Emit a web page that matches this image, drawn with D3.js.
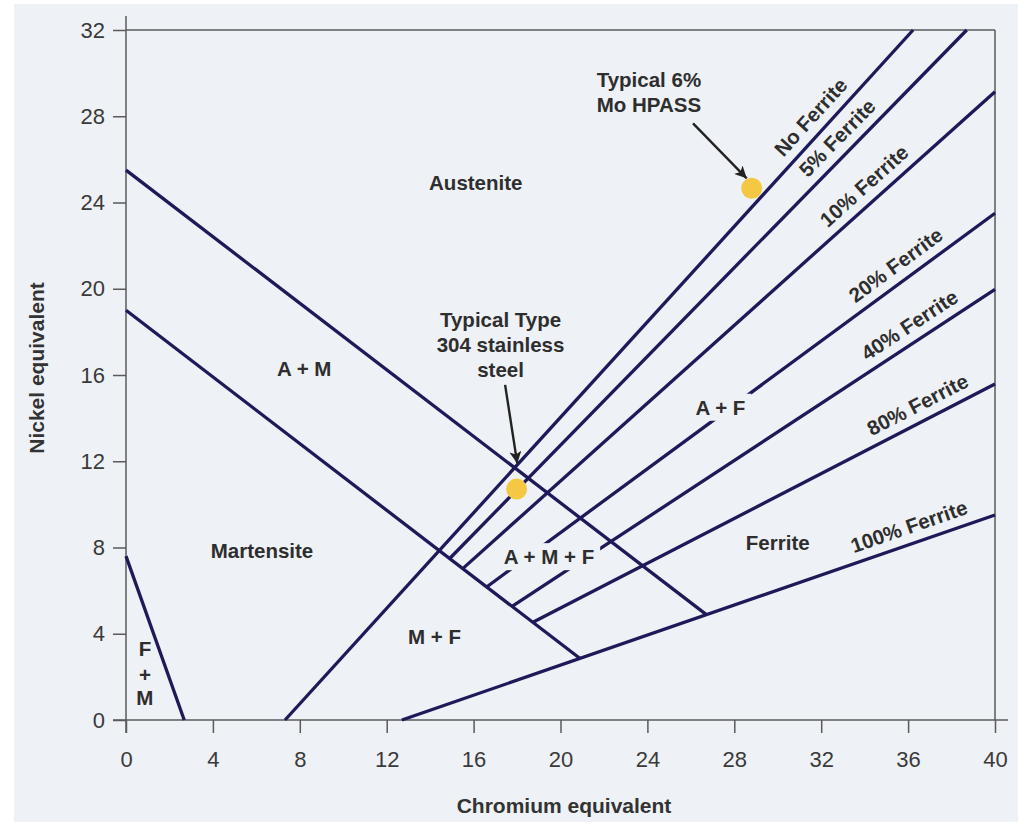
<!DOCTYPE html>
<html>
<head>
<meta charset="utf-8">
<script src="https://cdn.jsdelivr.net/npm/d3@7"></script>
<style>
  html, body { margin: 0; padding: 0; background: #ffffff; }
  svg { display: block; }
</style>
</head>
<body>
<svg id="chart" width="1030" height="826"></svg>
<script>
// Schaeffler constitution diagram: chromium vs nickel equivalent

const crTicks = [0, 4, 8, 12, 16, 20, 24, 28, 32, 36, 40];
const niTicks = [0, 4, 8, 12, 16, 20, 24, 28, 32];

// Phase boundaries (Cr eq, Ni eq)
const boundaryFM = [[0, 7.6], [2.68, 0]];
const boundaryMartensite = [[0, 19.0], [20.9, 2.85]];
const boundaryAustenite = [[0, 25.5], [26.7, 4.9]];

// Iso-ferrite lines
const ferriteNames = ["No Ferrite", "5% Ferrite", "10% Ferrite", "20% Ferrite", "40% Ferrite", "80% Ferrite", "100% Ferrite"];
const ferriteStart = [[7.32, 0], [14.9, 7.49], [15.5, 7.02], [16.6, 6.17], [17.77, 5.27], [18.73, 4.53], [12.7, 0]];
const ferriteEnd = [[36.23, 32], [38.7, 32], [40, 29.14], [40, 23.5], [40, 19.97], [40, 15.58], [40, 9.51]];
const ferriteLabelCr = [32.1, 33.3, 34.5, 35.9, 36.5, 36.8, 36.3];

// Phase region labels
const regionNames = ["Austenite", "A + M", "Martensite", "M + F", "A + F", "A + M + F", "Ferrite"];
const regionCr = [16.1, 8.2, 6.26, 14.2, 27.36, 19.47, 30.0];
const regionNi = [24.9, 16.3, 7.84, 3.85, 14.49, 7.56, 8.23];
const regionMasked = [false, false, false, false, true, true, false];
const fmLetters = ["F", "+", "M"];
const fmCr = 0.87;
const fmNi = [3.3, 2.1, 1.05];

// Alloys marked on the diagram
const alloyLines = [["Typical 6%", "Mo HPASS"], ["Typical Type", "304 stainless", "steel"]];
const alloyCr = [28.8, 17.98];
const alloyNi = [24.66, 10.71];
const alloyTextAt = [[24.07, 29.68], [17.24, 18.55]];
const arrowFrom = [[26.1, 27.67], [17.45, 15.54]];
const arrowTo = [[28.57, 25.12], [18.01, 11.9]];

const BG = "#eef1f5";
const LINE = "#1e1a5a";
const INK = "#2e2e2e";
const AXIS = "#5a5a5a";

const svg = d3.select("#chart");

svg.append("rect")
  .attr("x", 14).attr("y", 4).attr("width", 1004).attr("height", 818)
  .attr("fill", BG);

const x = d3.scaleLinear().domain([0, 40]).range([126, 995]);
const y = d3.scaleLinear().domain([0, 32]).range([720, 30]);

// Frame and axes
const frame = svg.append("g").attr("stroke", AXIS).attr("stroke-width", 1.5).attr("fill", "none");
frame.append("line").attr("x1", x(0)).attr("x2", x(40)).attr("y1", y(32)).attr("y2", y(32));
frame.append("line").attr("x1", x(40)).attr("x2", x(40)).attr("y1", y(32)).attr("y2", y(0));
frame.append("line").attr("x1", x(0) - 13).attr("x2", x(40) + 13).attr("y1", y(0)).attr("y2", y(0));
frame.append("line").attr("x1", x(0)).attr("x2", x(0)).attr("y1", y(32) - 14).attr("y2", y(0) + 13);

const xAxis = svg.append("g")
  .attr("transform", `translate(0,${y(0)})`)
  .call(d3.axisBottom(x).tickValues(crTicks).tickSize(13).tickSizeOuter(0).tickPadding(18));
const yAxis = svg.append("g")
  .attr("transform", `translate(${x(0)},0)`)
  .call(d3.axisLeft(y).tickValues(niTicks).tickSize(13).tickSizeOuter(0).tickPadding(8));

[xAxis, yAxis].forEach(g => {
  g.select(".domain").remove();
  g.selectAll(".tick line").attr("stroke", AXIS).attr("stroke-width", 1.5);
  g.selectAll(".tick text")
    .attr("fill", "#3a3a3a")
    .style("font-family", "'Liberation Sans Narrow', 'Arial Narrow', 'Liberation Sans', Arial, sans-serif")
    .style("font-size", "22px");
});

svg.append("text")
  .attr("x", 564).attr("y", 813)
  .attr("text-anchor", "middle")
  .attr("fill", "#333")
  .style("font-family", "'Liberation Sans', Arial, sans-serif")
  .style("font-size", "21px").style("font-weight", "bold")
  .text("Chromium equivalent");

svg.append("text")
  .attr("transform", "translate(44,368) rotate(-90)")
  .attr("text-anchor", "middle")
  .attr("fill", "#333")
  .style("font-family", "'Liberation Sans', Arial, sans-serif")
  .style("font-size", "21px").style("font-weight", "bold")
  .text("Nickel equivalent");

// Diagram lines
const lineGen = d3.line().x(d => x(d[0])).y(d => y(d[1]));
const lines = svg.append("g").attr("fill", "none").attr("stroke", LINE).attr("stroke-width", 3.3);
[boundaryFM, boundaryMartensite, boundaryAustenite].forEach(b => {
  lines.append("path").attr("d", lineGen(b));
});
ferriteNames.forEach((name, i) => {
  lines.append("path").attr("d", lineGen([ferriteStart[i], ferriteEnd[i]]));
});

const font = "'Liberation Sans', Arial, Helvetica, sans-serif";

// Labels along the ferrite lines
ferriteNames.forEach((name, i) => {
  const [c0, n0] = ferriteStart[i];
  const [c1, n1] = ferriteEnd[i];
  const px0 = x(c0), py0 = y(n0), px1 = x(c1), py1 = y(n1);
  const ang = Math.atan2(py1 - py0, px1 - px0) * 180 / Math.PI;
  const c = ferriteLabelCr[i];
  const n = n0 + (n1 - n0) * (c - c0) / (c1 - c0);
  svg.append("text")
    .attr("transform", `translate(${x(c)},${y(n)}) rotate(${ang})`)
    .attr("y", -10)
    .attr("text-anchor", "middle")
    .attr("fill", INK)
    .style("font-family", font).style("font-size", "20.5px").style("font-weight", "bold")
    .text(name);
});

// Region labels
regionNames.forEach((name, i) => {
  const g = svg.append("g");
  const t = g.append("text")
    .attr("x", x(regionCr[i])).attr("y", y(regionNi[i]))
    .attr("dy", "0.35em")
    .attr("text-anchor", "middle")
    .attr("fill", INK)
    .style("font-family", font).style("font-size", "20.5px").style("font-weight", "bold")
    .text(name);
  if (regionMasked[i]) {
    const bb = t.node().getBBox();
    g.insert("rect", "text")
      .attr("x", bb.x - 6).attr("y", bb.y - 2)
      .attr("width", bb.width + 12).attr("height", bb.height + 4)
      .attr("fill", BG);
  }
});
fmLetters.forEach((ch, i) => {
  svg.append("text")
    .attr("x", x(fmCr)).attr("y", y(fmNi[i]))
    .attr("dy", "0.35em")
    .attr("text-anchor", "middle")
    .attr("fill", INK)
    .style("font-family", font).style("font-size", "20.5px").style("font-weight", "bold")
    .text(ch);
});

// Alloy callouts
svg.append("defs").append("marker")
  .attr("id", "arrowhead")
  .attr("viewBox", "0 0 10 10")
  .attr("refX", 10).attr("refY", 5)
  .attr("markerWidth", 5).attr("markerHeight", 5)
  .attr("markerUnits", "strokeWidth")
  .attr("orient", "auto")
  .append("path").attr("d", "M0,0 L10,5 L0,10 L2.5,5 Z").attr("fill", "#222");

alloyLines.forEach((rows, i) => {
  rows.forEach((row, j) => {
    svg.append("text")
      .attr("x", x(alloyTextAt[i][0])).attr("y", y(alloyTextAt[i][1]) + j * 25)
      .attr("dy", "0.35em")
      .attr("text-anchor", "middle")
      .attr("fill", INK)
      .style("font-family", font).style("font-size", "20.5px").style("font-weight", "bold")
      .text(row);
  });
  svg.append("line")
    .attr("x1", x(arrowFrom[i][0])).attr("y1", y(arrowFrom[i][1]))
    .attr("x2", x(arrowTo[i][0])).attr("y2", y(arrowTo[i][1]))
    .attr("stroke", "#222").attr("stroke-width", 2.4)
    .attr("marker-end", "url(#arrowhead)");
  svg.append("circle")
    .attr("cx", x(alloyCr[i])).attr("cy", y(alloyNi[i]))
    .attr("r", 10.5)
    .attr("fill", "#f4c842");
});
</script>
</body>
</html>
